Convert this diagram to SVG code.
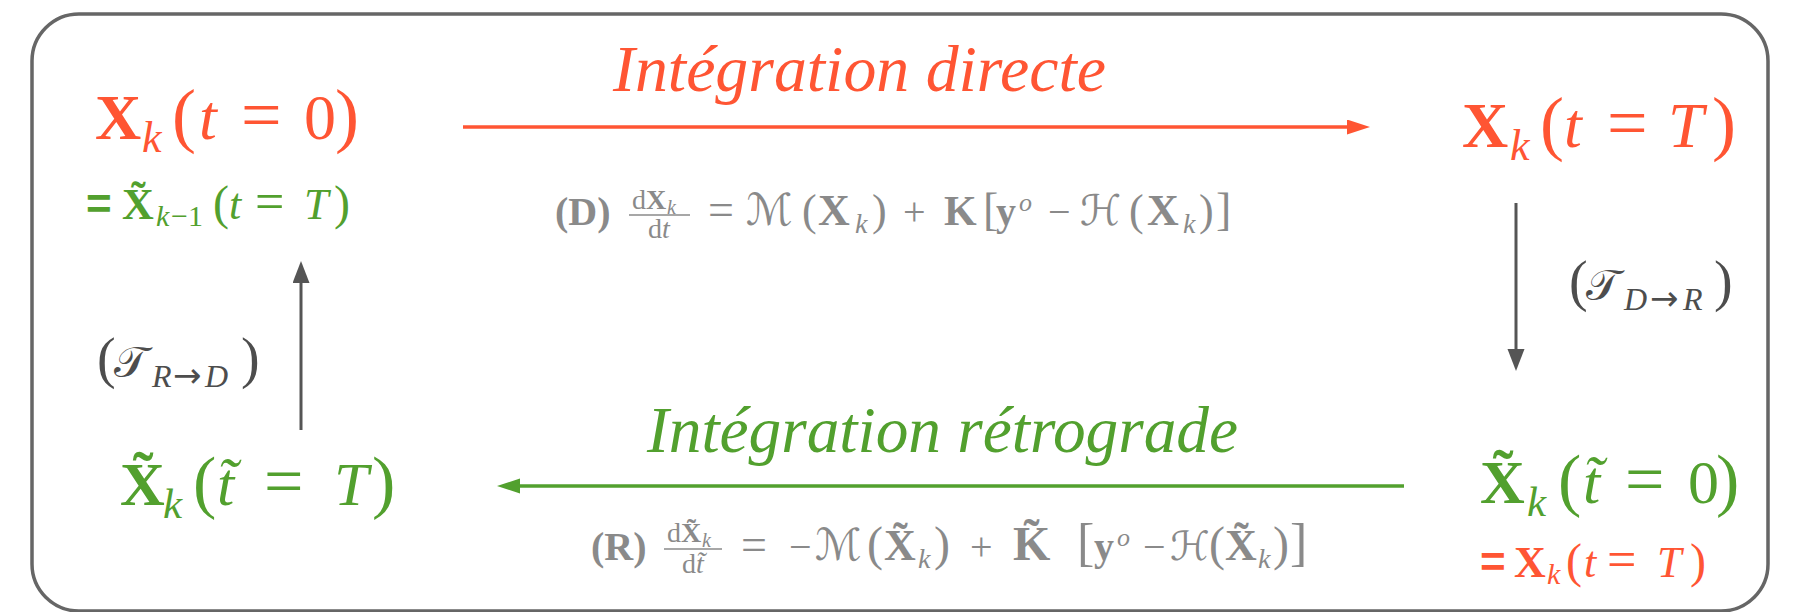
<svg xmlns="http://www.w3.org/2000/svg" width="1802" height="612" viewBox="0 0 1802 612">
<style>
.m{font-family:"Liberation Serif","DejaVu Serif",serif}
.cal{font-family:"DejaVu Serif","DejaVu Sans",serif}
.arr{font-family:"DejaVu Sans",sans-serif;font-style:normal}
.o{fill:#ff5533}
.g{fill:#52a02e}
.q{fill:#8a8a8a}
.d{fill:#4d4d4d}
.b{font-weight:bold}
.i{font-style:italic}
.eqs{font-family:"Liberation Sans",sans-serif;font-weight:bold}
</style>
<defs>
<marker id="ao" markerUnits="userSpaceOnUse" markerWidth="24" markerHeight="16" refX="0" refY="7.5" orient="auto"><path d="M0,0 L23,7.5 L0,15 z" fill="#ff5533"/></marker>
<marker id="ag" markerUnits="userSpaceOnUse" markerWidth="24" markerHeight="16" refX="0" refY="7.5" orient="auto"><path d="M0,0 L23,7.5 L0,15 z" fill="#52a02e"/></marker>
<marker id="ad" markerUnits="userSpaceOnUse" markerWidth="24" markerHeight="18" refX="0" refY="8.5" orient="auto"><path d="M0,0 L22,8.5 L0,17 z" fill="#555555"/></marker>
</defs>
<rect x="32" y="14" width="1736" height="597" rx="47" ry="47" fill="#ffffff" stroke="#666666" stroke-width="3.5"/>

<g id="connectors">
<line x1="463" y1="127" x2="1347" y2="127" stroke="#ff5533" stroke-width="3.5" marker-end="url(#ao)"/>
<line x1="1404" y1="486" x2="520" y2="486" stroke="#52a02e" stroke-width="3.5" marker-end="url(#ag)"/>
<line x1="1516" y1="203" x2="1516" y2="349" stroke="#555555" stroke-width="3" marker-end="url(#ad)"/>
<line x1="301" y1="430" x2="301" y2="283" stroke="#555555" stroke-width="3" marker-end="url(#ad)"/>
</g>

<g id="label-directe">
<text class="m i o" x="613" y="91" font-size="66" textLength="493" lengthAdjust="spacingAndGlyphs">Intégration directe</text>
</g>
<g id="label-retrograde">
<text class="m i g" x="647" y="452" font-size="66" textLength="591" lengthAdjust="spacingAndGlyphs">Intégration rétrograde</text>
</g>

<g id="node-xk0">
<text class="m o" font-size="64" y="139"><tspan class="b" x="95">X</tspan><tspan class="i" x="142" dy="13" font-size="44">k</tspan><tspan x="172" dy="-13" font-size="72">(</tspan><tspan class="i" x="199">t</tspan><tspan x="241" font-size="72">=</tspan><tspan x="304">0</tspan><tspan x="335" font-size="72">)</tspan></text>
<text class="m g" font-size="44" y="219"><tspan class="eqs" x="86">=</tspan><tspan class="b" x="122">X̃</tspan><tspan class="i" x="156" dy="7" font-size="30">k</tspan><tspan x="171" font-size="30">−1</tspan><tspan x="213" dy="-7" font-size="48">(</tspan><tspan class="i" x="229">t</tspan><tspan x="255" font-size="52">=</tspan><tspan class="i" x="304">T</tspan><tspan x="334" font-size="48">)</tspan></text>
</g>

<g id="node-xkT">
<text class="m o" font-size="64" y="147"><tspan class="b" x="1462">X</tspan><tspan class="i" x="1510" dy="13" font-size="44">k</tspan><tspan x="1540" dy="-13" font-size="72">(</tspan><tspan class="i" x="1564">t</tspan><tspan x="1607" font-size="72">=</tspan><tspan class="i" x="1668">T</tspan><tspan x="1712" font-size="72">)</tspan></text>
</g>

<g id="eq-D">
<text class="m q" font-size="40" y="225"><tspan class="b" x="555">(D)</tspan><tspan x="708" font-size="46">=</tspan><tspan class="cal" x="746" font-size="44">ℳ</tspan><tspan x="802" font-size="44">(</tspan><tspan class="b" x="818" font-size="44">X</tspan><tspan class="i" x="855" dy="8" font-size="28">k</tspan><tspan x="872" dy="-8" font-size="44">)</tspan><tspan x="903">+</tspan><tspan class="b" x="944" font-size="42">K</tspan><tspan x="983" font-size="46">[</tspan><tspan class="b" x="996">y</tspan><tspan class="i" x="1019" dy="-14" font-size="26">o</tspan><tspan x="1048" dy="14">−</tspan><tspan class="cal" x="1080" font-size="42">ℋ</tspan><tspan x="1129" font-size="44">(</tspan><tspan class="b" x="1147" font-size="44">X</tspan><tspan class="i" x="1183" dy="8" font-size="28">k</tspan><tspan x="1199" dy="-8" font-size="44">)</tspan><tspan x="1216" font-size="46">]</tspan></text>
<text class="m q" font-size="28" y="209"><tspan x="632">d</tspan><tspan class="b" x="646">X</tspan><tspan class="i" x="667" dy="5" font-size="20">k</tspan></text>
<line x1="629" y1="215" x2="690" y2="215" stroke="#8a8a8a" stroke-width="1.5"/>
<text class="m q" font-size="28" y="238"><tspan x="648">d</tspan><tspan class="i" x="662">t</tspan></text>
</g>

<g id="label-TDR">
<text class="m d" font-size="48" y="300"><tspan x="1569" font-size="56">(</tspan><tspan class="cal" x="1586" font-size="44">𝒯</tspan><tspan class="i" x="1624" dy="10" font-size="32">D</tspan><tspan class="arr" x="1650" font-size="34">→</tspan><tspan class="i" x="1683" font-size="32">R</tspan><tspan x="1714" dy="-10" font-size="56">)</tspan></text>
</g>

<g id="label-TRD">
<text class="m d" font-size="48" y="377"><tspan x="97" font-size="56">(</tspan><tspan class="cal" x="114" font-size="44">𝒯</tspan><tspan class="i" x="152" dy="10" font-size="32">R</tspan><tspan class="arr" x="173" font-size="34">→</tspan><tspan class="i" x="205" font-size="32">D</tspan><tspan x="241" dy="-10" font-size="56">)</tspan></text>
</g>

<g id="node-xtT">
<text class="m g" font-size="62" y="505"><tspan class="b" x="120">X̃</tspan><tspan class="i" x="163" dy="13" font-size="43">k</tspan><tspan x="193" dy="-13" font-size="70">(</tspan><tspan class="i" x="217">t̃</tspan><tspan x="264" font-size="70">=</tspan><tspan class="i" x="334">T</tspan><tspan x="372" font-size="70">)</tspan></text>
</g>

<g id="node-xt0">
<text class="m g" font-size="62" y="503"><tspan class="b" x="1480">X̃</tspan><tspan class="i" x="1527" dy="13" font-size="43">k</tspan><tspan x="1558" dy="-13" font-size="70">(</tspan><tspan class="i" x="1583">t̃</tspan><tspan x="1625" font-size="70">=</tspan><tspan x="1688">0</tspan><tspan x="1716" font-size="70">)</tspan></text>
<text class="m o" font-size="44" y="577"><tspan class="eqs" x="1480">=</tspan><tspan class="b" x="1514">X</tspan><tspan class="i" x="1547" dy="7" font-size="30">k</tspan><tspan x="1566" dy="-7" font-size="48">(</tspan><tspan class="i" x="1584">t</tspan><tspan x="1607" font-size="52">=</tspan><tspan class="i" x="1657">T</tspan><tspan x="1690" font-size="48">)</tspan></text>
</g>

<g id="eq-R">
<text class="m q" font-size="40" y="560"><tspan class="b" x="591">(R)</tspan><tspan x="741" font-size="46">=</tspan><tspan x="789">−</tspan><tspan class="cal" x="815" font-size="44">ℳ</tspan><tspan x="867" font-size="48">(</tspan><tspan class="b" x="884" font-size="44">X̃</tspan><tspan class="i" x="918" dy="8" font-size="28">k</tspan><tspan x="934" dy="-8" font-size="48">)</tspan><tspan x="970">+</tspan><tspan class="b" x="1013" font-size="48">K̃</tspan><tspan x="1077" font-size="52">[</tspan><tspan class="b" x="1094">y</tspan><tspan class="i" x="1117" dy="-14" font-size="26">o</tspan><tspan x="1143" dy="14">−</tspan><tspan class="cal" x="1170" font-size="40">ℋ</tspan><tspan x="1209" font-size="48">(</tspan><tspan class="b" x="1225" font-size="44">X̃</tspan><tspan class="i" x="1258" dy="8" font-size="28">k</tspan><tspan x="1273" dy="-8" font-size="48">)</tspan><tspan x="1290" font-size="52">]</tspan></text>
<text class="m q" font-size="28" y="542"><tspan x="667">d</tspan><tspan class="b" x="681">X̃</tspan><tspan class="i" x="702" dy="5" font-size="20">k</tspan></text>
<line x1="664" y1="549" x2="722" y2="549" stroke="#8a8a8a" stroke-width="1.5"/>
<text class="m q" font-size="28" y="573"><tspan x="682">d</tspan><tspan class="i" x="696">t̃</tspan></text>
</g>
</svg>
